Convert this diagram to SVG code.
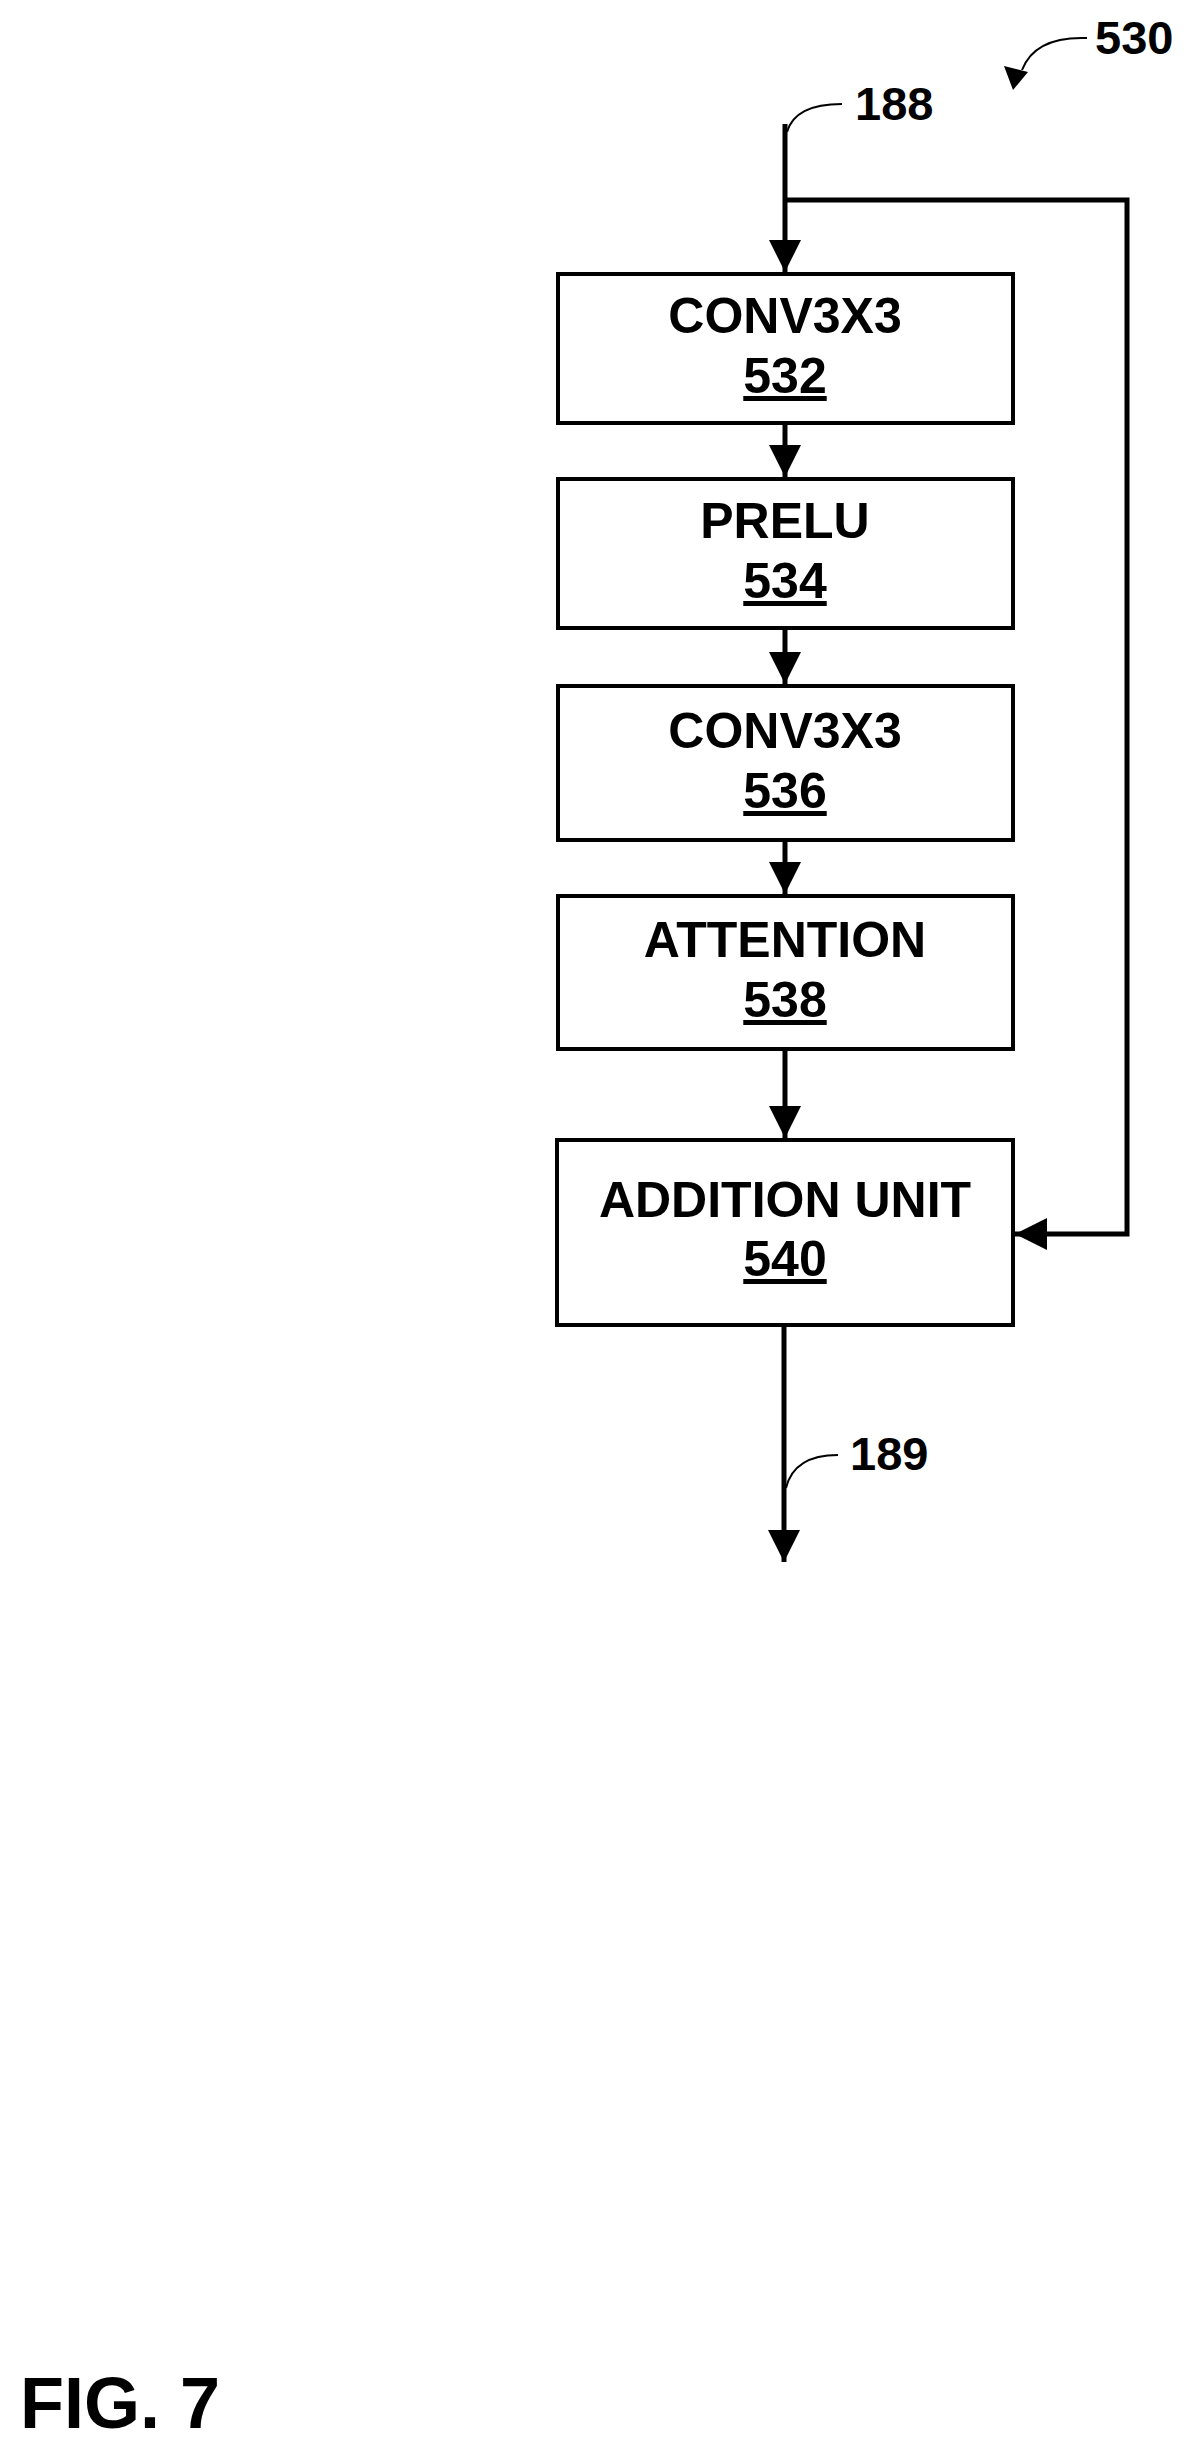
<svg xmlns="http://www.w3.org/2000/svg" width="1189" height="2451" viewBox="0 0 1189 2451">
<style>
.box{fill:#fff;stroke:#000;stroke-width:4}
.t{font-family:"Liberation Sans",Arial,sans-serif;font-weight:bold;font-size:50px;text-anchor:middle;fill:#000}
.n{text-decoration:underline}
.lbl{font-family:"Liberation Sans",Arial,sans-serif;font-weight:bold;font-size:47px;fill:#000}
.c{fill:none;stroke:#000;stroke-width:5}
.l{fill:none;stroke:#000;stroke-width:2}
</style>
<defs>
<marker id="a" markerUnits="userSpaceOnUse" markerWidth="34" markerHeight="34" refX="32" refY="16" orient="auto" viewBox="0 0 34 32">
<path d="M0,0 L32,16 L0,32 Z" fill="#000"/>
</marker>
</defs>
<rect width="1189" height="2451" fill="#fff"/>
<g id="connectors">
<path class="c" d="M785,124 V272" marker-end="url(#a)"/>
<path class="c" d="M785,200 H1127 V1234 H1015" marker-end="url(#a)"/>
<path class="c" d="M785,423 V477" marker-end="url(#a)"/>
<path class="c" d="M785,628 V684" marker-end="url(#a)"/>
<path class="c" d="M785,840 V894" marker-end="url(#a)"/>
<path class="c" d="M785,1049 V1138" marker-end="url(#a)"/>
<path class="c" d="M784,1325 V1562" marker-end="url(#a)"/>
<path class="l" d="M787,132 Q795,104 842,104"/>
<path class="l" d="M786,1488 Q794,1455 838,1455"/>
<path class="l" d="M1087,38 Q1035,36 1022,70"/>
<path d="M1004,66 L1028,72 L1013,90 Z" fill="#000"/>
</g>
<g id="n532"><rect class="box" x="558" y="274" width="455" height="149"/><text class="t" x="785" y="333">CONV3X3</text><text class="t n" x="785" y="393">532</text></g>
<g id="n534"><rect class="box" x="558" y="479" width="455" height="149"/><text class="t" x="785" y="538">PRELU</text><text class="t n" x="785" y="598">534</text></g>
<g id="n536"><rect class="box" x="558" y="686" width="455" height="154"/><text class="t" x="785" y="748">CONV3X3</text><text class="t n" x="785" y="808">536</text></g>
<g id="n538"><rect class="box" x="558" y="896" width="455" height="153"/><text class="t" x="785" y="957">ATTENTION</text><text class="t n" x="785" y="1017">538</text></g>
<g id="n540"><rect class="box" x="557" y="1140" width="456" height="185"/><text class="t" x="785" y="1217">ADDITION UNIT</text><text class="t n" x="785" y="1276">540</text></g>
<text class="lbl" x="855" y="120">188</text>
<text class="lbl" x="850" y="1470">189</text>
<text class="lbl" x="1095" y="54">530</text>
<text class="lbl" x="20" y="2428" style="font-size:72px">FIG. 7</text>
</svg>
